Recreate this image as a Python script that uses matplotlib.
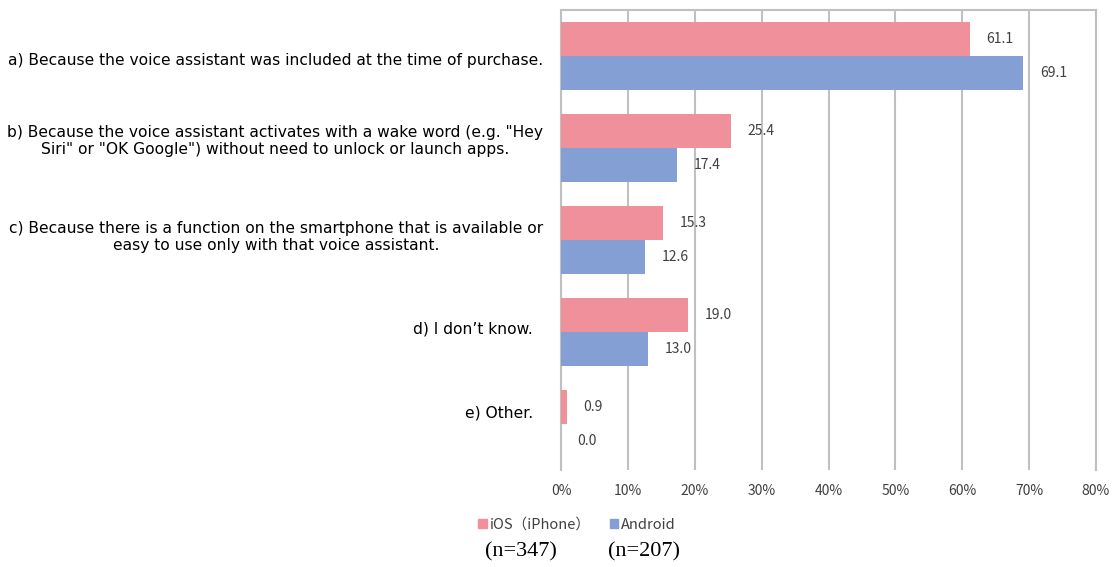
import matplotlib.pyplot as plt
import matplotlib.transforms as mtransforms
import numpy as np

plt.rcParams['font.family'] = ['DejaVu Sans', 'Noto Sans CJK JP']

# data
categories = [
    'a) Because the voice assistant was included at the time of purchase.',
    'b) Because the voice assistant activates with a wake word (e.g. "Hey\nSiri" or "OK Google") without need to unlock or launch apps.',
    'c) Because there is a function on the smartphone that is available or\neasy to use only with that voice assistant.',
    'd) I don\u2019t know.  ',
    'e) Other.  ',
]
ios_values = [61.1, 25.4, 15.3, 19.0, 0.9]
android_values = [69.1, 17.4, 12.6, 13.0, 0.0]
series_names = ['iOS\uff08iPhone\uff09', 'Android']
sample_sizes = ['(n=347)', '(n=207)']
x_ticks = [0, 10, 20, 30, 40, 50, 60, 70, 80]

ios_color = '#F0909A'
android_color = '#839FD4'
grid_color = '#C0C0C0'
text_color = '#404040'

fig = plt.figure(figsize=(11.16, 5.67), dpi=100)
ax = fig.add_axes([561 / 1116, 1 - 470 / 567, (1096 - 561) / 1116, 460 / 567])

y = np.arange(len(categories))
h = 34 / 92
b1 = ax.barh(y - h / 2, ios_values, height=h, color=ios_color, zorder=3)
b2 = ax.barh(y + h / 2, android_values, height=h, color=android_color, zorder=3)

for bars, vals in [(b1, ios_values), (b2, android_values)]:
    for bar, v in zip(bars, vals):
        ax.annotate(f'{v:.1f}', (v, bar.get_y() + bar.get_height() / 2),
                    xytext=(12, 0), textcoords='offset points', ha='left', va='center',
                    fontsize=10, color=text_color, family=['Noto Sans CJK JP'])

ax.set_xlim(0, 80)
ax.set_ylim(len(categories) - 0.5, -0.5)
ax.set_xticks(x_ticks)
ax.set_xticklabels([f'{t}%' for t in x_ticks], fontsize=10, color=text_color,
                   family=['Noto Sans CJK JP'])
ax.set_yticks(y)
ax.set_yticklabels(categories, fontsize=11.2, color='#000000', multialignment='center')
ax.tick_params(axis='both', length=0)
ax.tick_params(axis='x', pad=10)
ax.tick_params(axis='y', pad=13)

# the labels in the original sit a little above the band centres
label_shift = [-3, 10, 6, 5, 12]
for lab, dy in zip(ax.get_yticklabels(), label_shift):
    lab.set_transform(lab.get_transform() + mtransforms.ScaledTranslation(0, dy / 100, fig.dpi_scale_trans))

ax.grid(axis='x', color=grid_color, linewidth=1.5, zorder=0)
for s in ['top', 'left', 'right']:
    ax.spines[s].set_color(grid_color)
    ax.spines[s].set_linewidth(1.5)
ax.spines['bottom'].set_visible(False)

handles = [plt.Rectangle((0, 0), 1, 1, color=ios_color),
           plt.Rectangle((0, 0), 1, 1, color=android_color)]
leg = fig.legend(handles, series_names, loc='center', bbox_to_anchor=(577 / 1116, 1 - 525 / 567),
                 ncol=2, frameon=False, handlelength=0.6, handleheight=0.6, handletextpad=0.2,
                 columnspacing=1.3, prop={'family': ['Noto Sans CJK JP'], 'size': 10.5})
for t in leg.get_texts():
    t.set_color(text_color)

fig.text(521 / 1116, 1 - 552 / 567, sample_sizes[0], ha='center', va='center',
         family='Liberation Serif', fontsize=16)
fig.text(644 / 1116, 1 - 552 / 567, sample_sizes[1], ha='center', va='center',
         family='Liberation Serif', fontsize=16)

fig.savefig('out.png', dpi=100)
